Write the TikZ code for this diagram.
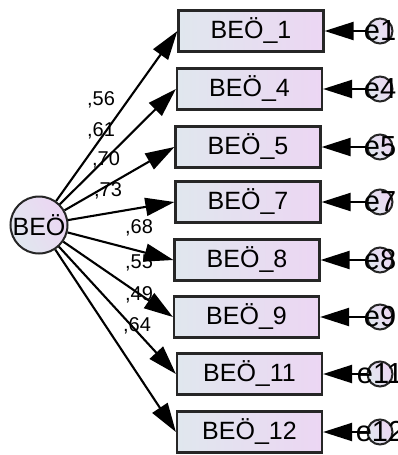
\documentclass[tikz,border=0pt]{standalone}
\usepackage{fontspec}
\setmainfont{Liberation Sans}
\usetikzlibrary{arrows.meta}
\definecolor{shadeleft}{RGB}{224,231,238}
\definecolor{shaderight}{RGB}{236,214,243}

\tikzset{
  item/.style={draw=black!85, line width=2.2pt, left color=shadeleft, right color=shaderight,
    minimum width=145pt, minimum height=41pt, inner sep=0pt, font=\fontsize{25}{25}\selectfont},
  latent/.style={circle, draw=black!85, line width=2pt, left color=shadeleft, right color=shaderight,
    shading angle=120, inner sep=0pt},
  loading/.style={line width=2.1pt, -{Triangle[length=29pt,width=18pt]}},
  coef/.style={inner sep=0pt, font=\fontsize{20}{20}\selectfont}
}

\begin{document}
\begin{tikzpicture}[x=1pt, y=-1pt]
    \useasboundingbox (0,0) rectangle (398,455);
    % factor
    \node[latent, minimum size=57pt, font=\fontsize{25}{25}\selectfont] (beo) at (39,225) {\makebox[0pt]{BE\"O}};
    % items and their errors
    \foreach \n/\x/\y in {1/251/31, 4/249.5/89, 5/248/147, 7/248/202, 8/247/260, 9/246.5/317, 11/249.5/374, 12/249.5/432} {
      \node[item] (b\n) at (\x,\y) {BE\"O\_\n};
      \node[latent, minimum size=25pt, font=\fontsize{29}{29}\selectfont] (e\n) at (380,\y) {\makebox[0pt]{e\n}};
      \draw[loading] (beo) -- (b\n.west);
      \draw[loading] (e\n) -- (b\n.east);
    }
    % loadings
    \node[coef] (c1) at (101,100) {,56};
    \node[coef] (c4) at (101,131) {,61};
    \node[coef] (c5) at (106,160) {,70};
    \node[coef] (c7) at (108,191) {,73};
    \node[coef] (c8) at (139,228) {,68};
    \node[coef] (c9) at (139,263) {,55};
    \node[coef] (c11) at (139,295) {,49};
    \node[coef] (c12) at (137,326) {,64};
\end{tikzpicture}
\end{document}
